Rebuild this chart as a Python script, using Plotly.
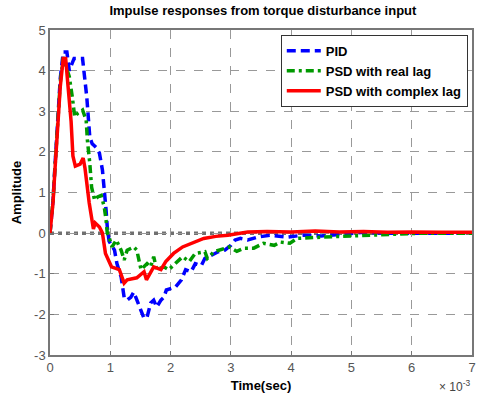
import plotly.graph_objects as go

# Time in milliseconds (axis shows seconds x 10^-3)
t_pid = [0, 0.05, 0.08, 0.12, 0.17, 0.22, 0.28, 0.32, 0.40, 0.54, 0.61, 0.66, 0.70, 0.77, 0.82, 0.87,
         0.90, 0.93, 0.95, 0.98, 1.07, 1.11, 1.18, 1.23, 1.28, 1.34, 1.39, 1.44, 1.51, 1.56,
         1.61, 1.67, 1.72, 1.77, 1.84, 1.89, 1.93, 2.08, 2.18, 2.25, 2.34, 2.41, 2.51, 2.57,
         2.67, 2.79, 2.90, 3.00, 3.07, 3.16, 3.28, 3.44, 3.65, 3.80, 3.93, 4.20, 4.50, 4.90,
         5.20, 5.50, 6.00, 6.50, 7.00]
y_pid = [0, 0.8, 1.6, 2.7, 3.8, 4.46, 4.46, 4.0, 4.3, 4.3, 3.35, 2.36, 2.2, 2.1, 1.97, 1.55,
         1.13, 0.57, 0.15, -0.2, -0.42, -0.75, -1.08, -1.58, -1.65, -1.58, -1.45, -1.65,
         -1.9, -2.1, -2.07, -1.72, -1.65, -1.82, -1.65, -1.58, -1.4, -1.33, -1.15, -0.9, -0.95,
         -0.75, -0.8, -0.62, -0.55, -0.46, -0.42, -0.3, -0.17, -0.13, -0.17, -0.1, -0.05, -0.08,
         -0.1, -0.05, -0.07, -0.02, 0.02, 0.0, 0.01, 0.0, 0.0]

t_real = [0, 0.05, 0.08, 0.12, 0.17, 0.22, 0.32, 0.37, 0.41, 0.46, 0.54, 0.60, 0.62, 0.66, 0.69,
          0.74, 0.79, 0.85, 0.90, 0.93, 0.95, 0.98, 1.03, 1.10, 1.18, 1.23, 1.28, 1.39, 1.44,
          1.51, 1.56, 1.61, 1.67, 1.72, 1.77, 1.89, 1.97, 2.08, 2.20, 2.31, 2.41, 2.57, 2.61,
          2.72, 2.82, 2.97, 3.10, 3.22, 3.38, 3.54, 3.72, 3.82, 3.98, 4.10, 4.50, 4.90, 5.30,
          5.70, 6.20, 7.00]
y_real = [0, 0.8, 1.55, 2.6, 3.7, 4.33, 3.85, 3.35, 2.86, 2.95, 3.03, 2.78, 2.29, 1.72, 1.13,
          0.81, 0.89, 0.93, 0.64, 0.32, 0.0, -0.1, -0.34, -0.17, -0.42, -0.66, -0.42, -0.34,
          -0.42, -0.9, -0.83, -0.75, -0.83, -0.58, -0.9, -0.83, -0.9, -0.75, -0.58, -0.7, -0.5,
          -0.46, -0.62, -0.46, -0.42, -0.34, -0.45, -0.37, -0.37, -0.25, -0.3, -0.22, -0.25,
          -0.13, -0.1, -0.07, -0.05, -0.03, 0.0, 0.0]

t_cplx = [0, 0.05, 0.08, 0.12, 0.17, 0.22, 0.26, 0.30, 0.35, 0.38, 0.42, 0.50, 0.55, 0.58, 0.65, 0.72,
          0.75, 0.82, 0.87, 0.92, 0.97, 1.02, 1.15, 1.23, 1.28, 1.44, 1.56, 1.60, 1.72, 1.84,
          1.92, 2.05, 2.20, 2.40, 2.55, 2.75, 2.95, 3.28, 3.60, 4.00, 4.40, 4.80, 5.20, 5.60,
          6.00, 6.50, 7.00]
y_cplx = [0, 0.75, 1.5, 2.55, 3.6, 4.3, 4.3, 3.6, 2.75, 1.9, 1.65, 1.7, 1.85, 1.6, 0.75, 0.1,
          0.25, 0.15, 0.0, -0.5, -0.65, -0.83, -0.9, -1.23, -1.15, -1.1, -0.95, -1.15, -0.83,
          -0.9, -0.7, -0.5, -0.34, -0.22, -0.13, -0.08, -0.05, 0.03, 0.04, 0.03, 0.05, 0.03,
          0.04, 0.02, 0.03, 0.02, 0.02]

x_ticks = [0, 1, 2, 3, 4, 5, 6, 7]
y_ticks = [-3, -2, -1, 0, 1, 2, 3, 4, 5]

def sec(ts):
    return [t * 1e-3 for t in ts]

fig = go.Figure()
fig.add_trace(go.Scatter(x=sec(t_pid), y=y_pid, mode="lines", name="<b>PID</b>",
                         line=dict(color="#0000ff", width=3.5, dash="9px,5px")))
fig.add_trace(go.Scatter(x=sec(t_real), y=y_real, mode="lines", name="<b>PSD with real lag</b>",
                         line=dict(color="#009900", width=3.5, dash="8px,4px,3px,4px")))
fig.add_trace(go.Scatter(x=sec(t_cplx), y=y_cplx, mode="lines", name="<b>PSD with complex lag</b>",
                         line=dict(color="#ff0000", width=3.5)))

# zero reference line
fig.add_shape(type="line", xref="paper", x0=0, x1=1, yref="y", y0=0, y1=0,
              line=dict(color="#707070", width=3.5, dash="4px,4px"), layer="below")

axis_font = dict(family="Arial, Liberation Sans", size=13, color="#555555")
fig.update_layout(
    width=478, height=399,
    margin=dict(l=50, r=2, t=30, b=44),
    paper_bgcolor="white", plot_bgcolor="white",
    title=dict(text="<b>Impulse responses from torque disturbance input</b>", x=0.55, xanchor="center",
               y=0.985, yanchor="top", font=dict(family="Arial, Liberation Sans", size=13, color="black")),
    font=dict(family="Arial, Liberation Sans", size=13, color="black"),
    showlegend=True,
    legend=dict(x=0.99, y=0.985, xanchor="right", yanchor="top", bgcolor="white",
                bordercolor="#333333", borderwidth=1, tracegroupgap=0,
                font=dict(family="Arial, Liberation Sans", size=13, color="black"),
                itemwidth=34),
)
fig.update_xaxes(range=[0, 7e-3], tickvals=sec(x_ticks), ticktext=[str(v) for v in x_ticks],
                 showgrid=True, gridcolor="#999999", griddash="dash", gridwidth=1,
                 showline=True, linecolor="#777777", mirror=True, linewidth=1.5,
                 ticks="inside", ticklen=4, tickcolor="#777777", tickfont=axis_font,
                 zeroline=False,
                 title=dict(text="<b>Time(sec)</b>", font=dict(size=13, color="black"), standoff=7))
fig.update_yaxes(range=[-3, 5], tickvals=y_ticks, ticktext=[str(v) for v in y_ticks],
                 showgrid=True, gridcolor="#999999", griddash="dash",
                 gridwidth=1, showline=True, linecolor="#777777", mirror=True, linewidth=1.5,
                 ticks="inside", ticklen=4, tickcolor="#777777", tickfont=axis_font, zeroline=False,
                 title=dict(text="<b>Amplitude</b>", font=dict(size=13, color="black"), standoff=10))
fig.add_annotation(xref="paper", yref="paper", x=1.0, y=-0.095, xanchor="right", yanchor="middle",
                   text="× 10<sup>-3</sup>", showarrow=False,
                   font=dict(family="Arial, Liberation Sans", size=12, color="#444444"))

fig.write_html("out.html")
